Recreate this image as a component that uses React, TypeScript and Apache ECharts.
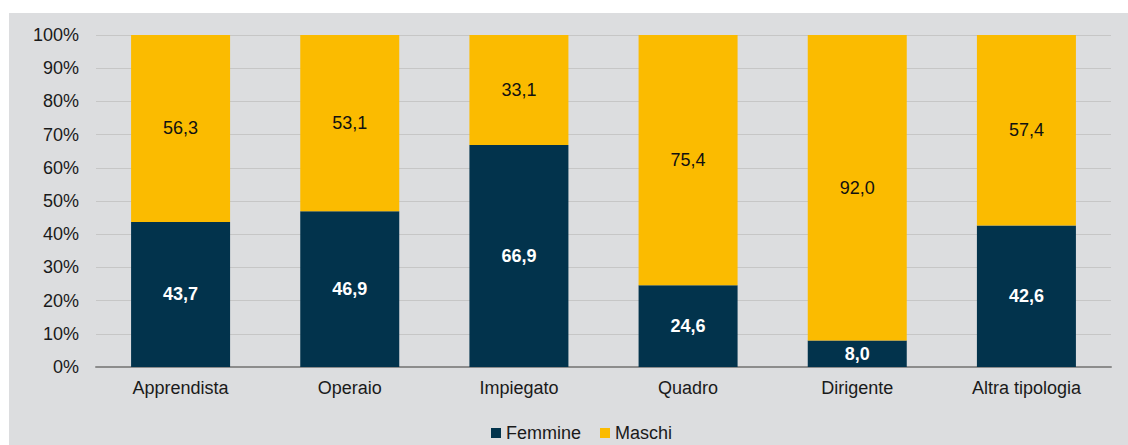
import React, { useEffect, useRef } from "react";
import * as echarts from "echarts";

const categories = ["Apprendista", "Operaio", "Impiegato", "Quadro", "Dirigente", "Altra tipologia"];
const femmine = [43.7, 46.9, 66.9, 24.6, 8.0, 42.6];
const maschi = [56.3, 53.1, 33.1, 75.4, 92.0, 57.4];
const yTicks = [0, 10, 20, 30, 40, 50, 60, 70, 80, 90, 100];

const FONT = "'Liberation Sans', Arial, sans-serif";
const fmt = (v: number) => v.toFixed(1).replace(".", ",");

export default function App() {
  const ref = useRef<HTMLDivElement>(null);
  useEffect(() => {
    if (!ref.current) return;
    const chart = echarts.init(ref.current, null, { renderer: "svg" });
    chart.setOption({
      animation: false,
      backgroundColor: "#dcdddf",
      textStyle: { fontFamily: FONT },
      grid: { left: 87, right: 17, top: 22, bottom: 78, containLabel: false },
      legend: {
        data: ["Femmine", "Maschi"],
        left: 482,
        top: 411,
        padding: 0,
        itemWidth: 10,
        itemHeight: 10,
        itemGap: 19,
        icon: "rect",
        textStyle: { fontSize: 18, color: "#1a1a1a", fontFamily: FONT, lineHeight: 18 },
      },
      xAxis: {
        type: "category",
        data: categories,
        axisTick: { show: false },
        axisLine: { lineStyle: { color: "#8c8c8c", width: 2 } },
        axisLabel: { fontSize: 18, color: "#1a1a1a", margin: 12, fontFamily: FONT },
      },
      yAxis: {
        type: "value",
        min: yTicks[0],
        max: yTicks[yTicks.length - 1],
        interval: 10,
        axisLine: { show: false },
        axisTick: { show: false },
        splitLine: { lineStyle: { color: "#c6c6c6", width: 1 } },
        axisLabel: { fontSize: 18, color: "#1a1a1a", margin: 17, formatter: "{value}%", fontFamily: FONT },
      },
      series: [
        {
          name: "Femmine",
          type: "bar",
          stack: "tot",
          data: femmine,
          barWidth: 99,
          itemStyle: { color: "#02334c" },
          label: {
            show: true,
            position: "inside",
            color: "#ffffff",
            fontWeight: "bold",
            fontSize: 18,
            fontFamily: FONT,
            formatter: (p: any) => fmt(p.value),
          },
        },
        {
          name: "Maschi",
          type: "bar",
          stack: "tot",
          data: maschi,
          barWidth: 99,
          itemStyle: { color: "#fbbb00" },
          label: {
            show: true,
            position: "inside",
            color: "#111111",
            fontSize: 18,
            fontFamily: FONT,
            formatter: (p: any) => fmt(p.value),
          },
        },
      ],
    });
    return () => chart.dispose();
  }, []);
  return (
    <div
      ref={ref}
      style={{ position: "absolute", left: 9, top: 13, width: 1119, height: 432 }}
    />
  );
}
